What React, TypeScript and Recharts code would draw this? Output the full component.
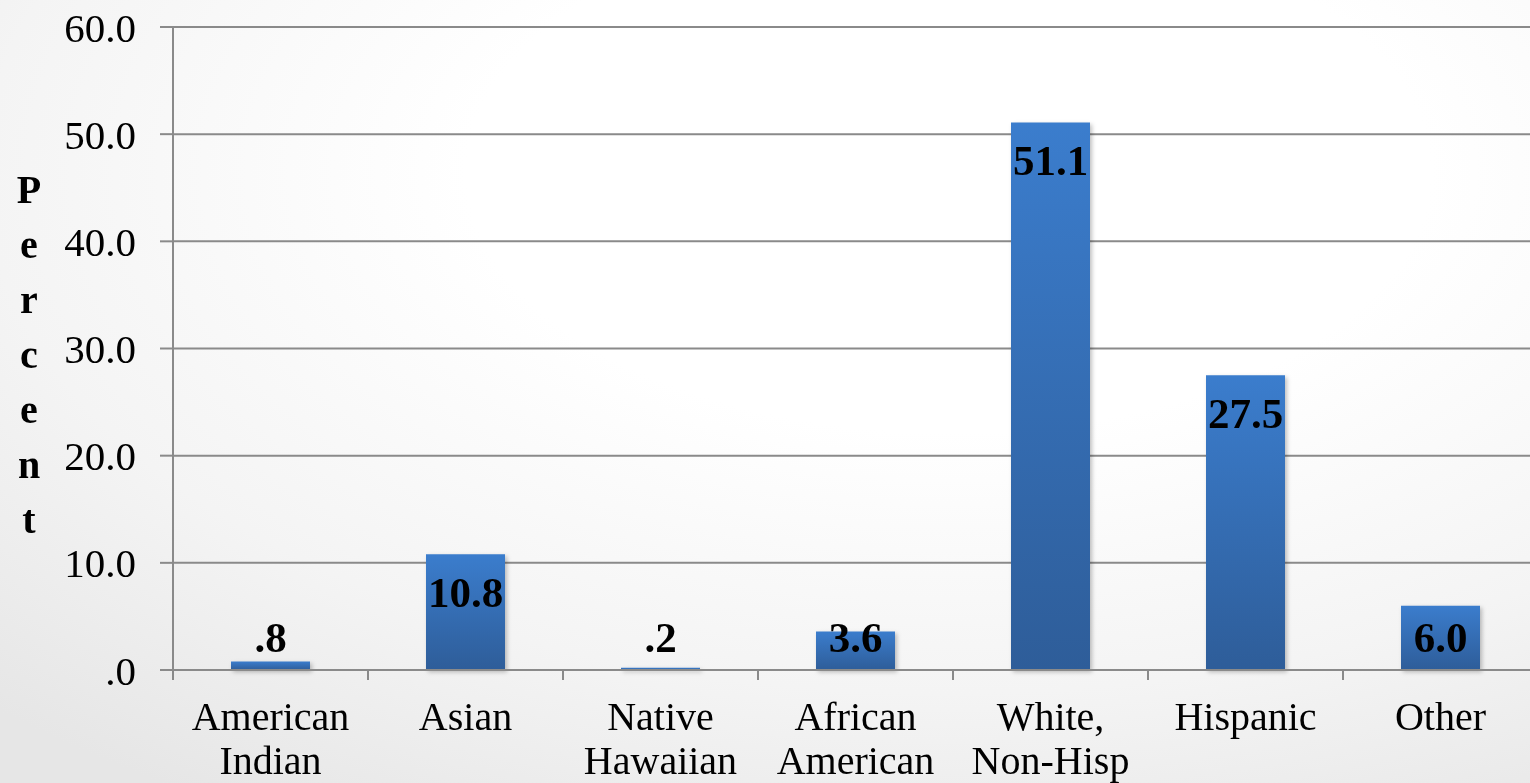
import React from 'react'
import { BarChart, Bar, XAxis, YAxis, CartesianGrid, LabelList } from 'recharts'

const categories = ['American\nIndian', 'Asian', 'Native\nHawaiian', 'African\nAmerican', 'White,\nNon-Hisp', 'Hispanic', 'Other']
const percents = [0.8, 10.8, 0.2, 3.6, 51.1, 27.5, 6.0]
const yTicks = [0, 10, 20, 30, 40, 50, 60]
const axisTitle = 'Percent'

const data = categories.map((name, i) => ({ name, value: percents[i] }))

const CHART_W = 1538
const CHART_H = 783
const Y_AXIS_W = 173
const X_AXIS_H = 113
const TOP = 27
const BAND = (CHART_W - Y_AXIS_W) / categories.length
const PLOT_BOTTOM = CHART_H - X_AXIS_H

const FONT = '"Liberation Serif", "Times New Roman", serif'
const GRID = '#8a8a8a'

// Excel-style decimals: ".8", "10.8", ".0"
const fmt = (v: number) => {
  const s = v.toFixed(1)
  return s.startsWith('0') ? s.slice(1) : s
}

const XTick = (props: any) => {
  const { x, y, payload } = props
  const lines = String(payload.value).split('\n')
  const left = x - BAND / 2
  return (
    <g>
      <line x1={left} x2={left} y1={y} y2={y + 10} stroke={GRID} strokeWidth={2} />
      <text x={x} y={y + 60} textAnchor="middle" fontFamily={FONT} fontSize={40} fill="#000">
        {lines.map((ln, i) => (
          <tspan key={i} x={x} dy={i === 0 ? 0 : 44}>{ln}</tspan>
        ))}
      </text>
    </g>
  )
}

const ValueLabel = (props: any) => {
  const { x, y, width, value } = props
  const cy = Math.min(y + 38, PLOT_BOTTOM - 33)
  return (
    <text x={x + width / 2} y={cy + 15} textAnchor="middle" fontFamily={FONT} fontWeight="bold" fontSize={43} fill="#000">
      {fmt(value)}
    </text>
  )
}

const StackedTitle = () => (
  <text x={29} y={203} textAnchor="middle" fontFamily={FONT} fontWeight="bold" fontSize={40} fill="#000">
    {axisTitle.split('').map((ch, i) => (
      <tspan key={i} x={29} dy={i === 0 ? 0 : 55}>{ch}</tspan>
    ))}
  </text>
)

export default function App() {
  return (
    <div
      style={{
        position: 'fixed',
        left: 0,
        top: 0,
        width: 1530,
        height: 783,
        overflow: 'hidden',
        background: 'radial-gradient(ellipse 90% 95% at 62% 22%, #ffffff 35%, #f4f4f4 70%, #e6e6e6 100%)',
      }}
    >
      <BarChart width={CHART_W} height={CHART_H} data={data} margin={{ top: TOP, right: 0, left: 0, bottom: 0 }}>
        <defs>
          <linearGradient id="barFill" x1="0" y1="0" x2="0" y2="1">
            <stop offset="0%" stopColor="#3b7dcd" />
            <stop offset="100%" stopColor="#2e5d99" />
          </linearGradient>
        </defs>
        <CartesianGrid vertical={false} stroke={GRID} strokeWidth={2} />
        <XAxis
          dataKey="name"
          height={X_AXIS_H}
          axisLine={{ stroke: GRID, strokeWidth: 2 }}
          tickLine={false}
          tickSize={0}
          tickMargin={0}
          interval={0}
          tick={<XTick />}
        />
        <YAxis
          width={Y_AXIS_W}
          domain={[0, 60]}
          ticks={yTicks}
          interval={0}
          tickFormatter={fmt}
          axisLine={{ stroke: GRID, strokeWidth: 2 }}
          tickLine={{ stroke: GRID, strokeWidth: 2 }}
          tickSize={13}
          tickMargin={24}
          tick={{ fontFamily: FONT, fontSize: 41, fill: '#000' }}
          label={{ content: () => <StackedTitle /> }}
        />
        <Bar
          dataKey="value"
          barSize={79}
          fill="url(#barFill)"
          isAnimationActive={false}
          style={{ filter: 'drop-shadow(2px 2px 2px rgba(0,0,0,0.25))' }}
        >
          <LabelList dataKey="value" content={<ValueLabel />} />
        </Bar>
      </BarChart>
    </div>
  )
}
